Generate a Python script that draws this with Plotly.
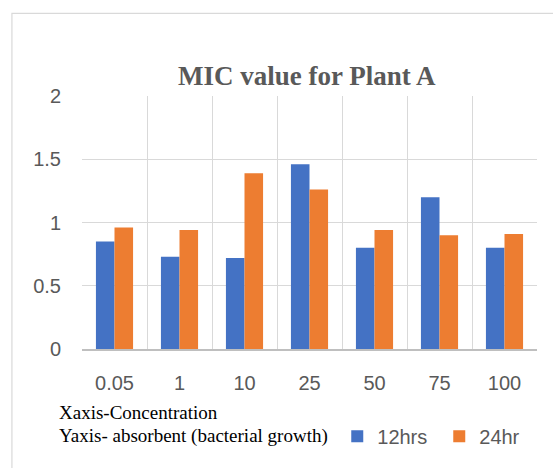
import plotly.graph_objects as go

# Concentrations on the x axis
concentrations = ["0.05", "1", "10", "25", "50", "75", "100"]

# Absorbance (bacterial growth) readings
growth_12hrs = [0.85, 0.73, 0.72, 1.46, 0.80, 1.20, 0.80]
growth_24hr = [0.96, 0.94, 1.39, 1.26, 0.94, 0.90, 0.91]

y_ticks = [0, 0.5, 1, 1.5, 2]

BLUE = "#4472C4"
ORANGE = "#ED7D31"
GREY_TEXT = "#595959"
GRID = "#D9D9D9"

fig = go.Figure()
fig.add_trace(go.Bar(name="12hrs", x=concentrations, y=growth_12hrs,
                     marker=dict(color=BLUE, line=dict(width=0))))
fig.add_trace(go.Bar(name="24hr", x=concentrations, y=growth_24hr,
                     marker=dict(color=ORANGE, line=dict(width=0))))

fig.update_layout(
    width=553, height=468,
    margin=dict(l=82, r=16, t=96, b=116),
    paper_bgcolor="white", plot_bgcolor="white",
    barmode="group", bargap=0.4286, bargroupgap=0,
    title=dict(
        text="<b>MIC value for Plant A</b>",
        font=dict(family="Liberation Serif", size=27, color=GREY_TEXT),
        xref="paper", x=0.494, xanchor="center",
        yref="container", y=0.838, yanchor="middle",
    ),
    xaxis=dict(
        type="category", tickson="boundaries",
        showgrid=True, gridcolor=GRID, gridwidth=1.3,
        showline=True, linecolor="#BFBFBF", linewidth=1.5,
        ticks="", ticklabelstandoff=15,
        tickfont=dict(family="Liberation Sans", size=20, color=GREY_TEXT),
    ),
    yaxis=dict(
        range=[0, 2], tickvals=y_ticks,
        showgrid=True, gridcolor=GRID, gridwidth=1.3,
        zeroline=False, showline=False,
        ticks="", ticklabelstandoff=20,
        tickfont=dict(family="Liberation Sans", size=20, color=GREY_TEXT),
    ),
    legend=dict(
        orientation="h", x=0.561, xanchor="left",
        y=-0.345, yanchor="middle",
        font=dict(family="Liberation Sans", size=20, color=GREY_TEXT),
        entrywidth=57, entrywidthmode="pixels",
        bgcolor="rgba(0,0,0,0)",
    ),
    showlegend=True,
)

# Axis descriptions written beneath the chart
fig.add_annotation(text="Xaxis-Concentration", xref="paper", yref="paper",
                   x=-0.055, y=-0.250, xanchor="left", yanchor="middle",
                   showarrow=False,
                   font=dict(family="Liberation Serif", size=19, color="#000000"))
fig.add_annotation(text="Yaxis- absorbent (bacterial growth)", xref="paper", yref="paper",
                   x=-0.055, y=-0.344, xanchor="left", yanchor="middle",
                   showarrow=False,
                   font=dict(family="Liberation Serif", size=19, color="#000000"))

# Light chart-area frame
fig.add_shape(type="rect", xref="paper", yref="paper",
              x0=-0.154, y0=-0.6, x1=1.2, y1=1.3266,
              line=dict(color=GRID, width=1.2), fillcolor="rgba(0,0,0,0)",
              layer="below")

fig.write_html("out.html")
